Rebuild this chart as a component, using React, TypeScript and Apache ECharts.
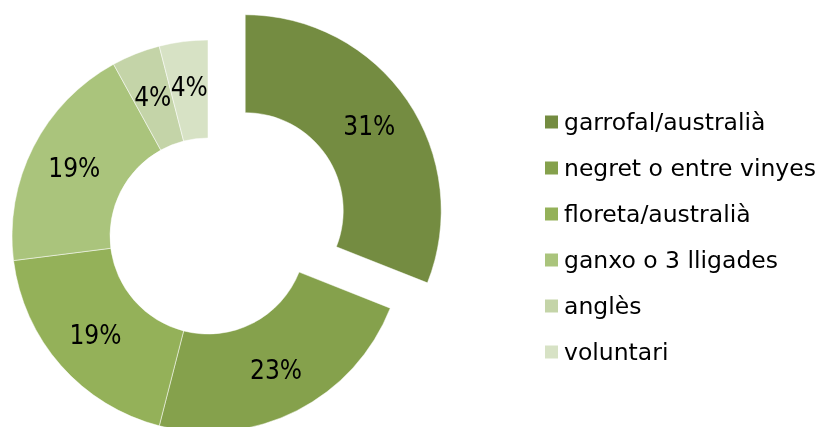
import React, { useEffect, useRef } from "react";
import * as echarts from "echarts";

const categories = [
  "garrofal/australià",
  "negret o entre vinyes",
  "floreta/australià",
  "ganxo o 3 lligades",
  "anglès",
  "voluntari",
];
const values = [31, 23, 19, 19, 4, 4];
const colors = ["#748C41", "#85A14C", "#94B159", "#AAC47C", "#C4D4A8", "#D7E2C5"];

export default function App() {
  const ref = useRef<HTMLDivElement>(null);
  useEffect(() => {
    if (!ref.current) return;
    const chart = echarts.init(ref.current, undefined, { renderer: "svg" });
    const font = "'DejaVu Sans', sans-serif";
    const narrow = "'Liberation Sans Narrow', 'DejaVu Sans Condensed', sans-serif";
    chart.setOption({
      animation: false,
      color: colors,
      legend: {
        orient: "vertical",
        left: 543,
        top: 110,
        padding: 0,
        itemWidth: 15,
        itemHeight: 15,
        itemGap: 22,
        icon: "rect",
        selectedMode: false,
        textStyle: { fontFamily: font, fontSize: 23.5, color: "#000", lineHeight: 24 },
        data: categories,
      },
      series: [
        {
          type: "pie",
          center: [208, 236],
          radius: [98, 196],
          startAngle: 90,
          clockwise: true,
          selectedMode: "single",
          selectedOffset: 45,
          avoidLabelOverlap: false,
          labelLayout: { hideOverlap: false },
          itemStyle: { borderColor: "#fff", borderWidth: 0.5 },
          emphasis: { disabled: true },
          label: {
            show: true,
            position: "inside",
            formatter: (p: any) => p.value + "%",
            fontFamily: narrow,
            fontSize: 26,
            color: "#000",
          },
          labelLine: { show: false },
          data: categories.map((name, i) => ({
            name,
            value: values[i],
            selected: i === 0,
          })),
        },
      ],
    });
    return () => chart.dispose();
  }, []);
  return (
    <div
      ref={ref}
      style={{ position: "fixed", left: 0, top: 0, width: 821, height: 427 }}
    />
  );
}
